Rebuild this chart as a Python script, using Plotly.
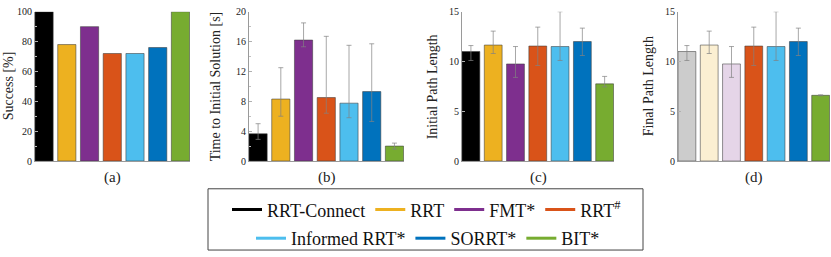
import plotly.graph_objects as go

planners = ["RRT-Connect", "RRT", "FMT*", "RRT<sup>#</sup>", "Informed RRT*", "SORRT*", "BIT*"]
colors = ["#000000", "#EDB120", "#7E2F8E", "#D95319", "#4DBEEE", "#0072BD", "#77AC30"]
faded = ["#CCCCCC", "#FBEFD2", "#E5D5E8", "#D95319", "#4DBEEE", "#0072BD", "#77AC30"]

success = [100, 78, 90, 72, 72, 76, 100]

time_mean = [3.65, 8.3, 16.2, 8.5, 7.75, 9.3, 2.0]
time_low = [2.9, 6.0, 15.3, 6.4, 5.8, 5.3, 1.6]
time_high = [5.0, 12.5, 18.5, 16.7, 15.5, 15.7, 2.4]

init_mean = [11.0, 11.65, 9.75, 11.55, 11.5, 12.0, 7.75]
init_low = [10.1, 10.8, 8.4, 9.6, 10.1, 10.6, 7.45]
init_high = [11.6, 13.05, 11.5, 13.45, 15.0, 13.35, 8.5]

final_mean = [11.0, 11.65, 9.75, 11.55, 11.5, 12.0, 6.6]
final_low = [10.1, 10.8, 8.4, 9.6, 10.1, 10.6, 6.55]
final_high = [11.6, 13.05, 11.5, 13.45, 15.0, 13.35, 6.65]

panel_labels = ["(a)", "(b)", "(c)", "(d)"]
y_titles = ["Success [%]", "Time to Initial Solution [s]", "Initial Path Length", "Final Path Length"]

W, H = 831, 257
FONT = "Liberation Serif, DejaVu Serif, serif"
xs = list(range(1, len(planners) + 1))

# panel pixel geometry (left, right)
panels = [(35, 190), (249, 404), (462, 614), (678, 830)]
ytop, ybot = 7, 163
yranges = [(0, 100), (0, 20), (0, 15), (0, 15)]
yticks = [list(range(0, 101, 20)), list(range(0, 21, 4)), [0, 5, 10, 15], [0, 5, 10, 15]]
ydticks_minor = [10, 2, None, None]

fig = go.Figure()

def add_panel(i, vals, fills, low=None, high=None):
    ax = "" if i == 0 else str(i + 1)
    err = None
    if low is not None:
        err = dict(type="data", symmetric=False,
                   array=[h - v for h, v in zip(high, vals)],
                   arrayminus=[v - l for l, v in zip(low, vals)],
                   color="rgba(130,130,130,0.7)", thickness=1, width=2.5)
    fig.add_trace(go.Bar(
        x=xs, y=vals, marker=dict(color=fills, line=dict(color="rgba(60,60,60,0.55)", width=1)),
        width=0.8, error_y=err, showlegend=False, hoverinfo="skip",
        xaxis="x" + ax, yaxis="y" + ax))

add_panel(0, success, colors)
add_panel(1, time_mean, colors, time_low, time_high)
add_panel(2, init_mean, colors, init_low, init_high)
add_panel(3, final_mean, faded, final_low, final_high)

# legend entries (line swatches)
for k, (name, c) in enumerate(zip(planners, colors)):
    fig.add_trace(go.Scatter(x=[None], y=[None], mode="lines", name=name,
                             line=dict(color=c, width=3),
                             legend="legend" if k < 4 else "legend2",
                             xaxis="x", yaxis="y"))

layout = dict(width=W, height=H, margin=dict(l=0, r=0, t=0, b=0),
              paper_bgcolor="white", plot_bgcolor="white",
              bargap=0.2, font=dict(family=FONT, size=9, color="#222"))
annotations = []
for i, ((l, r), yr) in enumerate(zip(panels, yranges)):
    ax = "" if i == 0 else str(i + 1)
    layout["xaxis" + ax] = dict(domain=[l / W, r / W], range=[0.6, 7.42], anchor="y" + ax,
                               showticklabels=False, ticks="", showgrid=False, zeroline=False,
                               showline=True, linecolor="#9a9a9a", linewidth=1, fixedrange=True)
    ya = dict(domain=[1 - ybot / H, 1 - ytop / H], range=list(yr), anchor="x" + ax,
              tickvals=yticks[i], ticks="inside", ticklen=3, tickcolor="#b0b0b0",
              showgrid=False, zeroline=False, showline=True, linecolor="#9a9a9a", linewidth=1,
              tickfont=dict(family=FONT, size=10, color="#222"), fixedrange=True)
    if ydticks_minor[i]:
        ya["minor"] = dict(dtick=ydticks_minor[i], ticks="inside", ticklen=2, tickcolor="#c0c0c0")
    layout["yaxis" + ax] = ya
    annotations.append(dict(text=panel_labels[i], x=(l + r) / 2 / W, y=1 - 180 / H,
                            xref="paper", yref="paper", showarrow=False,
                            font=dict(family=FONT, size=15, color="#222"),
                            xanchor="center", yanchor="middle"))

title_x = [8, 215, 432, 648]
for i, t in enumerate(y_titles):
    annotations.append(dict(text=t, x=title_x[i] / W, y=1 - 85 / H, xref="paper", yref="paper",
                            showarrow=False, textangle=-90,
                            font=dict(family=FONT, size=14, color="#222"),
                            xanchor="center", yanchor="middle"))
layout["annotations"] = annotations

leg_font = dict(family=FONT, size=18, color="#111")
layout["legend"] = dict(orientation="h", x=427 / W, y=1 - 214 / H, xanchor="center", yanchor="middle",
                        font=leg_font, bgcolor="rgba(0,0,0,0)", itemwidth=30, tracegroupgap=0)
layout["legend2"] = dict(orientation="h", x=428 / W, y=1 - 244 / H, xanchor="center", yanchor="middle",
                         font=leg_font, bgcolor="rgba(0,0,0,0)", itemwidth=30, tracegroupgap=0)
layout["shapes"] = [dict(type="rect", xref="paper", yref="paper",
                         x0=208 / W, x1=643 / W, y0=1 - 256 / H, y1=1 - 192 / H,
                         line=dict(color="#444", width=1))]
fig.update_layout(**layout)
fig.write_html("out.html", config={"displayModeBar": False},
               post_script="document.body.style.margin='0px';document.body.style.padding='0px';")
